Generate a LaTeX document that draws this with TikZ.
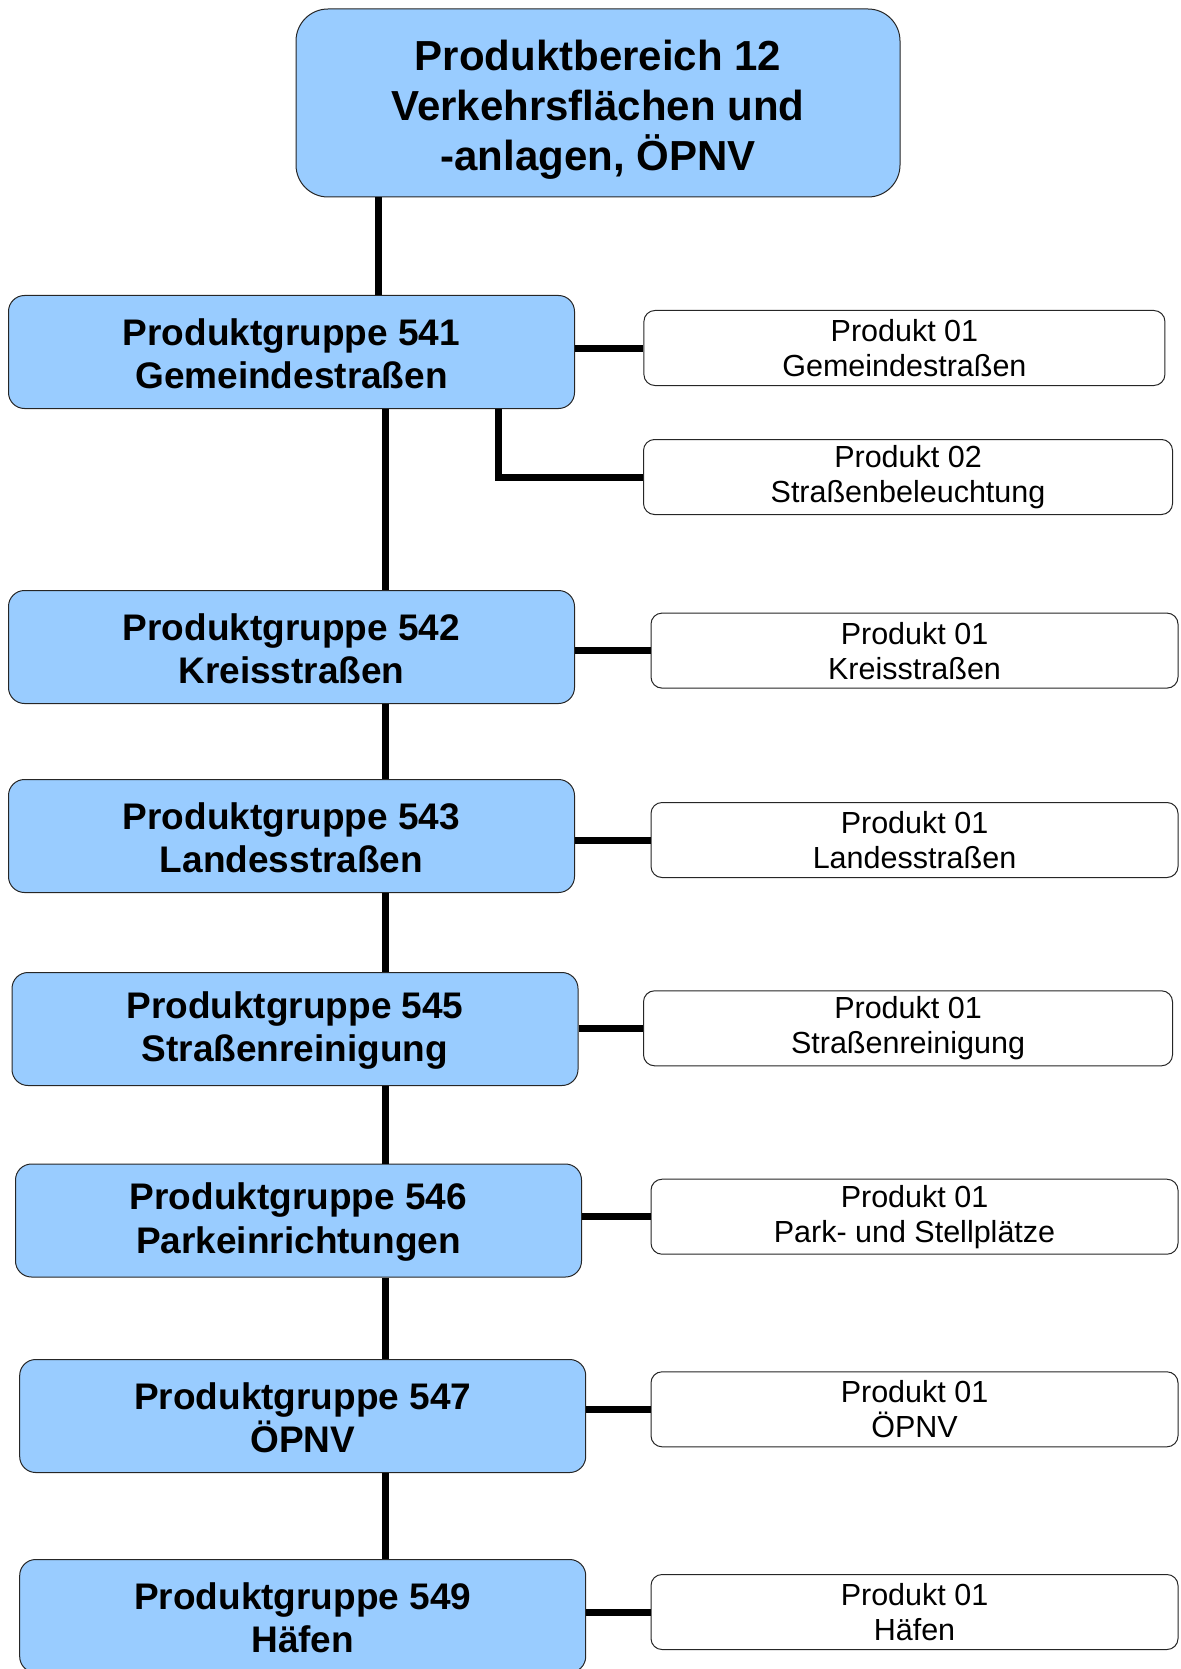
\documentclass[tikz,border=0pt]{standalone}
\usepackage{fontspec}
\setmainfont{Liberation Sans}
\definecolor{gruppeblau}{HTML}{99CCFF}
\tikzset{
  bereich/.style={draw=black!85, line width=1pt, fill=gruppeblau, rounded corners=32pt,
    minimum width=604pt, minimum height=188pt, inner sep=0pt, align=center,
    font=\fontsize{42}{50}\selectfont\bfseries},
  gruppe/.style={draw=black!85, line width=1pt, fill=gruppeblau, rounded corners=16pt,
    minimum width=566pt, minimum height=113pt, inner sep=0pt, align=center,
    font=\fontsize{37}{43.5}\selectfont\bfseries},
  produkt/.style={draw=black!85, line width=1pt, fill=white, rounded corners=11pt,
    minimum width=527pt, minimum height=75pt, inner sep=0pt, align=center,
    font=\fontsize{30.5}{35}\selectfont},
  linie/.style={line width=7pt}
}

\begin{document}
\begin{tikzpicture}[x=1pt, y=-1pt]
		%%%%% RAHMEN %%%%%
		\useasboundingbox (0, 0) rectangle (1180, 1669);
		
		\coordinate (oben) at (378, 0);
		\coordinate (stamm) at (385, 0);
		\coordinate (abzweig) at (498, 0);
		
		%%%%% KNOTEN %%%%%
		\node[bereich] (pb12) at (598, 103) {\rule{0pt}{43.5pt}Produktbereich 12\\Verkehrsflächen und\\-anlagen, ÖPNV};
		
		\node[gruppe] (pg541) at (291.5, 352) {\rule{0pt}{30pt}Produktgruppe 541\\Gemeindestraßen};
		\node[gruppe] (pg542) at (291.5, 647) {\rule{0pt}{30pt}Produktgruppe 542\\Kreisstraßen};
		\node[gruppe] (pg543) at (291.5, 836) {\rule{0pt}{30pt}Produktgruppe 543\\Landesstraßen};
		\node[gruppe] (pg545) at (295, 1029) {\rule{0pt}{30pt}Produktgruppe 545\\Straßenreinigung};
		\node[gruppe] (pg546) at (298.5, 1220.5) {\rule{0pt}{30pt}Produktgruppe 546\\Parkeinrichtungen};
		\node[gruppe] (pg547) at (302.7, 1416) {\rule{0pt}{30pt}Produktgruppe 547\\ÖPNV};
		\node[gruppe] (pg549) at (302.7, 1616) {\rule{0pt}{30pt}Produktgruppe 549\\Häfen};
		
		\node[produkt, minimum width=521pt] (p541a) at (904.4, 348) {Produkt 01\\Gemeindestraßen};
		\node[produkt, minimum width=529pt] (p541b) at (908, 477) {Produkt 02\\Straßenbeleuchtung};
		\node[produkt] (p542) at (914.5, 650.6) {Produkt 01\\Kreisstraßen};
		\node[produkt] (p543) at (914.5, 840) {Produkt 01\\Landesstraßen};
		\node[produkt, minimum width=529pt] (p545) at (908, 1028.3) {Produkt 01\\Straßenreinigung};
		\node[produkt] (p546) at (914.5, 1216.7) {Produkt 01\\Park- und Stellplätze};
		\node[produkt] (p547) at (914.5, 1409.3) {Produkt 01\\ÖPNV};
		\node[produkt] (p549) at (914.5, 1612) {Produkt 01\\Häfen};
		
		%%%%% VERBINDUNGEN %%%%%
		\draw[linie] (pb12.south -| oben) -- (pg541.north -| oben);
		\foreach \a/\b in {541/542, 542/543, 543/545, 545/546, 546/547, 547/549}
			\draw[linie] (pg\a.south -| stamm) -- (pg\b.north -| stamm);
		
		\draw[linie] (pg541.east |- p541a.west) -- (p541a.west);
		\draw[linie] (pg541.south -| abzweig) |- (p541b.west);
		\foreach \g in {542, 543, 545, 546, 547, 549}
			\draw[linie] (pg\g.east |- p\g.west) -- (p\g.west);
		
\end{tikzpicture}
\end{document}
